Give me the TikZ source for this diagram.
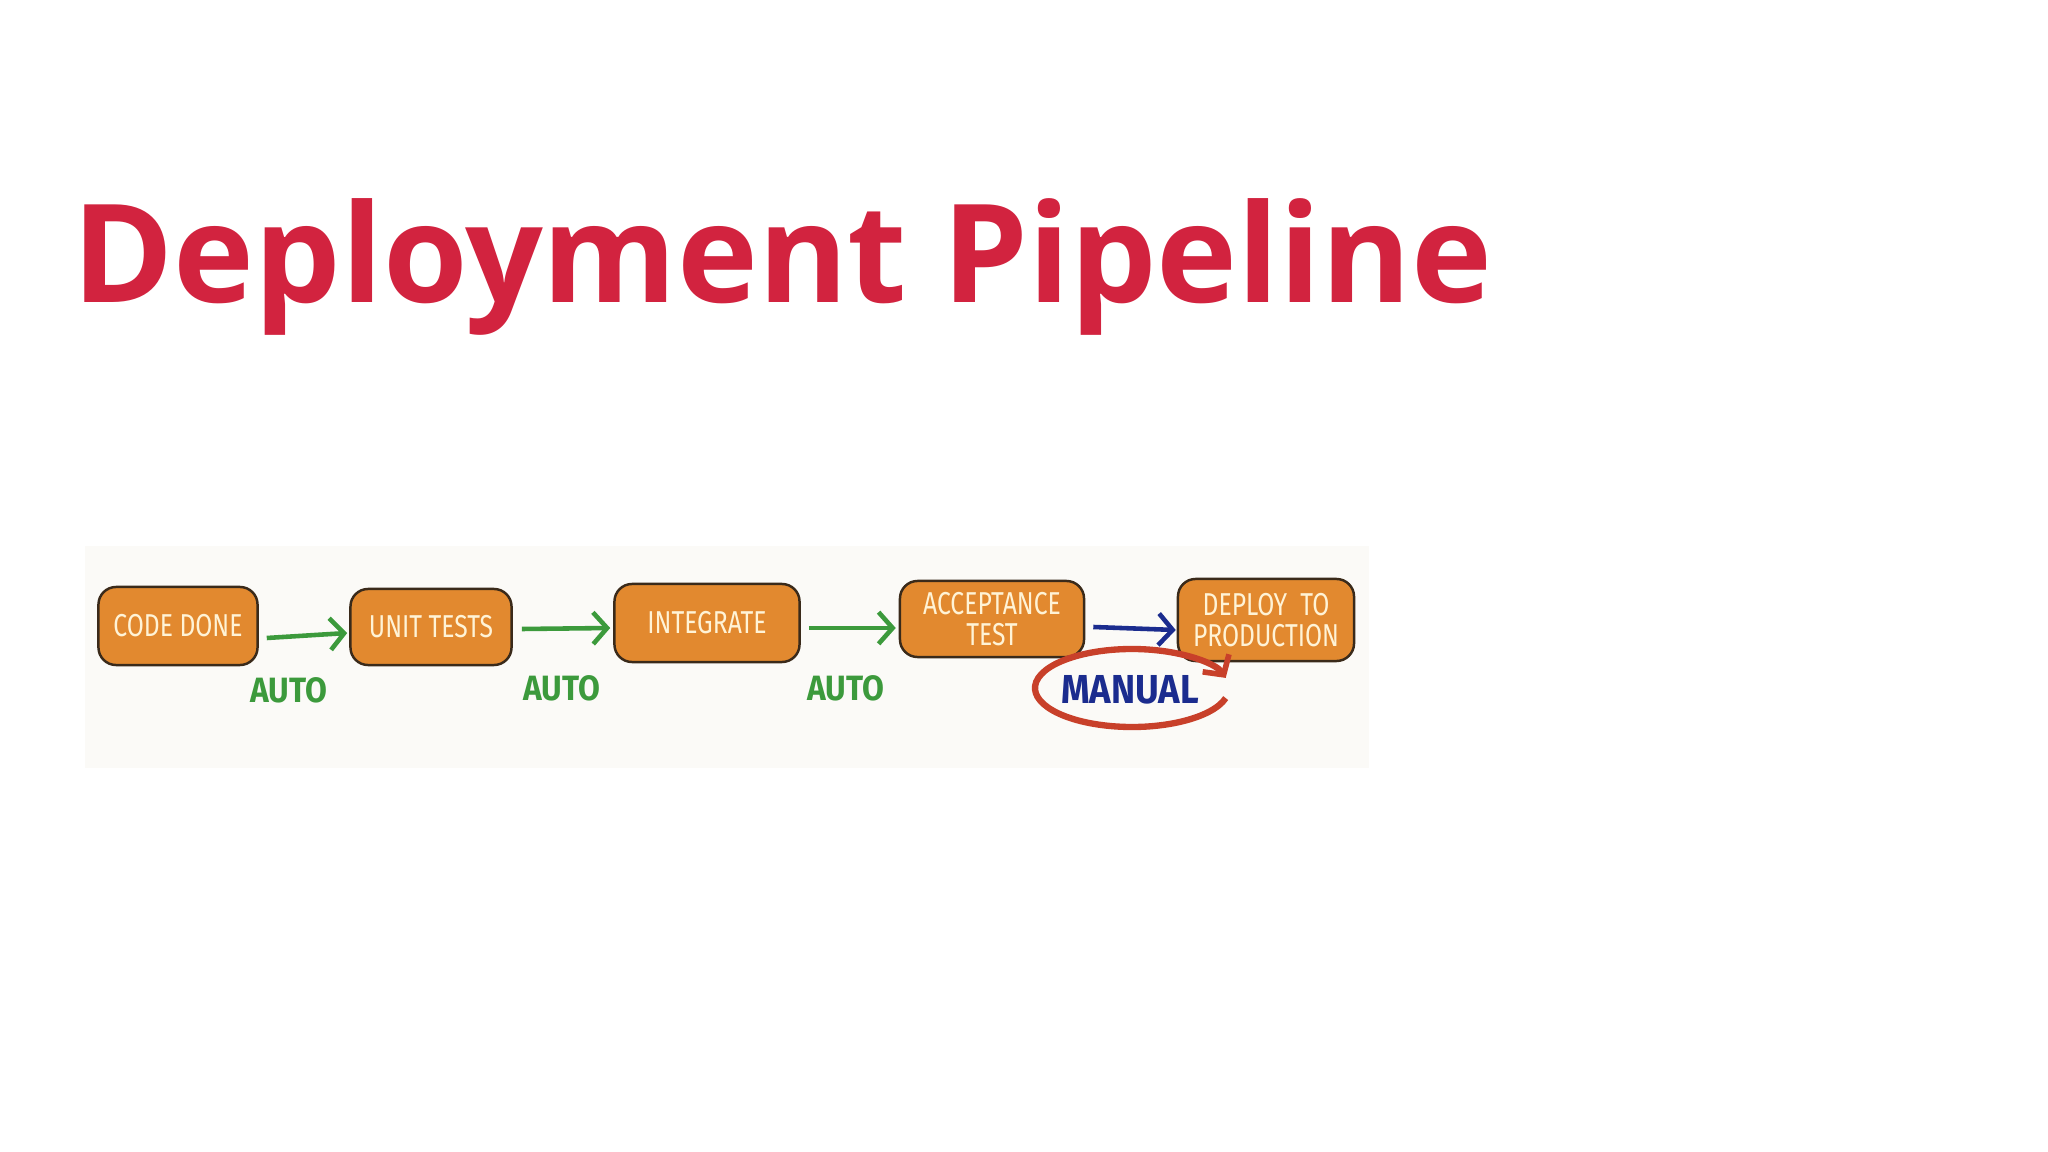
\documentclass[tikz,border=0pt]{standalone}
\usepackage{fontspec}
\usetikzlibrary{arrows.meta,calc,shapes.geometric}
\newfontfamily\titlefont{Open Sans}
\newfontfamily\handfont[FakeStretch=0.78]{Fira Sans}
\newfontfamily\labelfont[FakeStretch=0.9]{Fira Sans}
\definecolor{titlered}{HTML}{D2233F}
\definecolor{boxorange}{HTML}{E2892F}
\definecolor{boxedge}{HTML}{3A2A1A}
\definecolor{boxtext}{HTML}{FFF3D6}
\definecolor{autogreen}{HTML}{3C9A3C}
\definecolor{manblue}{HTML}{1B2C8E}
\definecolor{circred}{HTML}{C8402A}
\definecolor{panelbg}{HTML}{FBFAF7}
\tikzset{
  stagebox/.style={draw=boxedge, line width=0.7pt, fill=boxorange, rounded corners=5pt,
    text=boxtext, font=\handfont\fontsize{9}{10.5}\selectfont, align=center, inner sep=0pt},
  garrow/.style={draw=autogreen, line width=1.3pt, -{Straight Barb[length=4pt,width=9pt,line width=1.3pt]}},
  barrow/.style={draw=manblue, line width=1.3pt, -{Straight Barb[length=4pt,width=9pt,line width=1.3pt]}},
  autolabel/.style={text=autogreen, font=\labelfont\bfseries\fontsize{10}{12}\selectfont, inner sep=0pt},
}
\begin{document}
\begin{tikzpicture}[x=0.01cm,y=0.01cm]
\useasboundingbox (0,0) rectangle (2048,-1152);
\fill[white] (0,0) rectangle (2048,-1152);
% title
\node[anchor=base west, inner sep=0pt, text=titlered, font=\titlefont\bfseries\fontsize{38.9}{45}\selectfont] (title) at (72,-303) {Deployment Pipeline};
% image panel
\fill[panelbg] (85,-546) rectangle (1369,-768);
% stages
\node[stagebox, minimum width=1.59cm, minimum height=0.78cm] (cd) at (178,-626) {CODE DONE};
\node[stagebox, minimum width=1.61cm, minimum height=0.76cm] (ut) at (431,-627) {UNIT TESTS};
\node[stagebox, minimum width=1.85cm, minimum height=0.78cm] (ig) at (707,-623) {INTEGRATE};
\node[stagebox, minimum width=1.84cm, minimum height=0.76cm] (at) at (992,-619) {ACCEPTANCE\\[-1.5pt]TEST};
\node[stagebox, minimum width=1.76cm, minimum height=0.82cm] (dp) at (1266,-620) {DEPLOY\ \ TO\\[-1.5pt]PRODUCTION};
% connectors
\draw[garrow] ($(cd.east)+(8,-12)$) -- ($(ut.west)+(-2,-6)$);
\draw[garrow] ($(ut.east)+(9,-2)$) -- ($(ig.west)+(-3,-5)$);
\draw[garrow] ($(ig.east)+(8,-5)$) -- ($(at.west)+(-3,-9)$);
\draw[barrow] ($(at.east)+(8,-8)$) -- ($(dp.west)+(-1,-10)$);
% labels
\node[autolabel] (a1) at (289,-690) {AUTO};
\node[autolabel] (a2) at (562,-688) {AUTO};
\node[autolabel] (a3) at (846,-688) {AUTO};
\node[text=manblue, font=\labelfont\bfseries\fontsize{11.5}{13}\selectfont, inner sep=0pt] (man) at (1130,-690) {MANUAL};
\coordinate (ec) at (1132,-688);
\draw[circred, line width=1.8pt, -{Straight Barb[length=4pt,width=9pt,line width=1.6pt]}]
  ($(ec)+(345:97 and 39)$) arc[start angle=345, end angle=15, x radius=97, y radius=39];
\end{tikzpicture}
\end{document}
